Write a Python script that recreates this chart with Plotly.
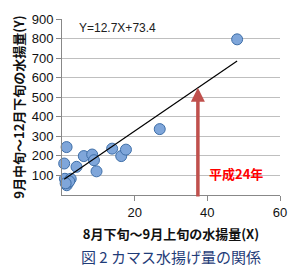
import plotly.graph_objects as go

# Data
x_vals = [0.6, 0.8, 1.26, 1.3, 1.7, 2.4, 4.0, 6.0, 8.3, 8.8, 9.5, 13.8, 16.3, 17.6, 26.9, 48.2, 2.0, 1.0]
y_vals = [161, 83, 245, 50, 63, 83, 144, 199, 207, 178, 121, 237, 199, 232, 337, 796, 70, 60]
slope = 12.7
intercept = 73.4
y_ticks = [100, 200, 300, 400, 500, 600, 700, 800, 900]
x_ticks = [20, 40, 60]
arrow_x = 37.4
arrow_y0 = -15

xmin, xmax = min(x_vals), max(x_vals)
trend_x = [xmin, xmax]
trend_y = [slope * v + intercept for v in trend_x]

fig = go.Figure()
fig.add_trace(go.Scatter(
    x=x_vals, y=y_vals, mode="markers",
    marker=dict(size=11, color="#7FA6DA", line=dict(color="#3F6FA8", width=1)),
    showlegend=False, cliponaxis=False))
fig.add_trace(go.Scatter(
    x=trend_x, y=trend_y, mode="lines",
    line=dict(color="black", width=1.2), showlegend=False))

fig.add_annotation(x=arrow_x, y=slope * arrow_x + intercept, ax=arrow_x, ay=arrow_y0,
                   xref="x", yref="y", axref="x", ayref="y",
                   showarrow=True, arrowhead=2, arrowsize=0.8, arrowwidth=3.5,
                   arrowcolor="#C0504D", text="")
fig.add_annotation(x=40, y=110, xref="x", yref="y", text="<b>平成24年</b>",
                   showarrow=False, xanchor="left",
                   font=dict(color="#FF0000", size=13, family="Noto Sans CJK JP"))
fig.add_annotation(x=4.2, y=855, xref="x", yref="y",
                   text="Y=%.1fX+%.1f" % (slope, intercept),
                   showarrow=False, xanchor="left",
                   font=dict(color="#202020", size=12, family="Liberation Sans"))
fig.add_annotation(x=0.5, y=-0.418, xref="paper", yref="paper", yanchor="bottom",
                   text="図 2 カマス水揚げ量の関係", showarrow=False,
                   font=dict(color="#1F3C78", size=15, family="Noto Sans CJK JP"))

fig.update_layout(
    width=299, height=272,
    margin=dict(l=62, r=13, t=14, b=77),
    paper_bgcolor="white", plot_bgcolor="white",
    font=dict(family="Liberation Sans", color="#222222"),
    xaxis=dict(range=[0, 60], tickvals=x_ticks, showgrid=False,
               showline=True, linecolor="#888888", linewidth=1,
               ticks="outside", ticklen=5, tickcolor="#888888",
               tickfont=dict(size=13, color="#111111"), zeroline=False,
               title=dict(text="<b>8月下旬～9月上旬の水揚量(X)</b>",
                          font=dict(size=13, family="Noto Sans CJK JP", color="#111111"),
                          standoff=11)),
    yaxis=dict(range=[0, 900], tickvals=y_ticks, showgrid=True,
               gridcolor="#BFBFBF", gridwidth=1,
               showline=True, linecolor="#888888", linewidth=1,
               ticks="outside", ticklen=5, tickcolor="#888888",
               tickfont=dict(size=13, color="#111111"), zeroline=False,
               title=dict(text="<b>9月中旬～12月下旬の水揚量(Y)</b>",
                          font=dict(size=13, family="Noto Sans CJK JP", color="#111111"),
                          standoff=4)),
)

fig.write_html("out.html")
